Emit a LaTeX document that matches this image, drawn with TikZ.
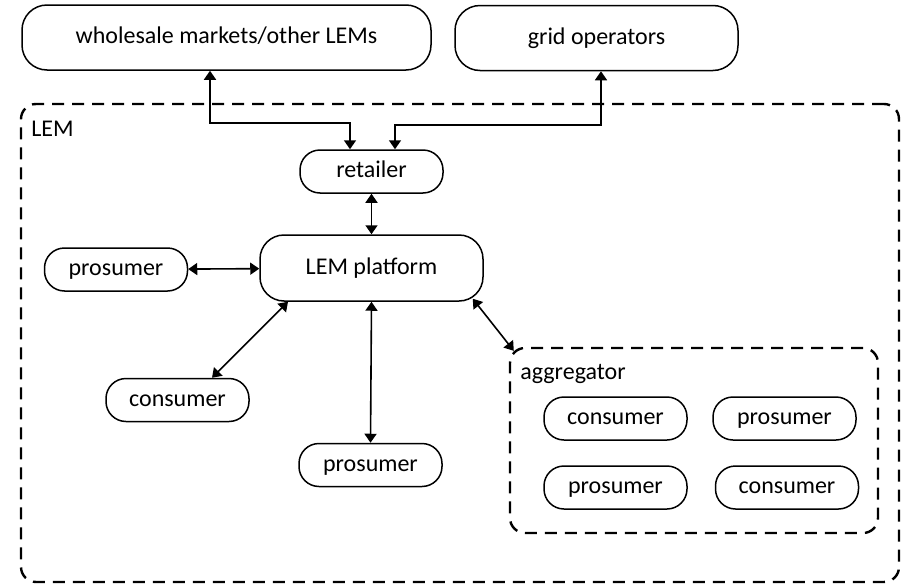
\documentclass[tikz,border=0pt]{standalone}
\usepackage{fontspec}
\setmainfont{Carlito}
\usetikzlibrary{arrows.meta}

\tikzset{
  pill/.style={draw, line width=0.75pt, rounded corners=10pt, minimum width=71.5pt, minimum height=21.5pt, inner sep=0pt, text height=8pt, text depth=2pt},
  bigbox/.style={pill, rounded corners=12.5pt, minimum height=32.5pt},
  group/.style={draw, line width=1.2pt, dash pattern=on 6pt off 4pt, rounded corners=7.5pt, inner sep=0pt},
  link/.style={line width=0.8pt, {Triangle[width=6pt,length=4.5pt]}-{Triangle[width=6pt,length=4.5pt]}}
}

\begin{document}
\begin{tikzpicture}[x=0.5pt, y=-0.5pt, font=\fontsize{12}{14}\selectfont]
        \useasboundingbox (0,0) rectangle (901,584);

        % Outer parties
        \node[bigbox, minimum width=204.5pt] (wholesale) at (226.5,37.5) {wholesale markets/other LEMs};
        \node[bigbox, minimum width=141.5pt] (grid) at (596.5,38) {grid operators};

        % Dashed regions
        \node[group, minimum width=439pt, minimum height=239pt] (lem) at (460,343) {};
        \node[anchor=base west, inner sep=0pt] (lemtitle) at (31,136) {LEM};
        \node[group, minimum width=184pt, minimum height=92.5pt] (aggregator) at (694,440.5) {};
        \node[anchor=base west, inner sep=0pt] (aggtitle) at (520,379) {aggregator};

        % Members of the LEM
        \node[pill] (retailer) at (371.5,171.5) {retailer};
        \node[pill, minimum width=111.5pt, minimum height=33pt, rounded corners=12pt] (platform) at (371.5,268) {LEM platform};
        \node[pill] (prosumerA) at (116,269.5) {prosumer};
        \node[pill] (consumerA) at (177.5,400) {consumer};
        \node[pill] (prosumerB) at (370.5,465) {prosumer};

        % Members of the aggregator
        \node[pill] (consumerB) at (615.5,418.5) {consumer};
        \node[pill] (prosumerC) at (784.5,418.5) {prosumer};
        \node[pill] (prosumerD) at (615.5,487.5) {prosumer};
        \node[pill] (consumerC) at (787,487.5) {consumer};

        % Links to the retailer
        \draw[link] ([xshift=-8.25pt]wholesale.south) -- ++(0,52) -| ([xshift=-10.75pt]retailer.north);
        \draw[link] ([xshift=2.25pt]grid.south) -- ++(0,54) -| ([xshift=11.75pt]retailer.north);

        % Links to the platform
        \draw[link] (retailer) -- (platform);
        \draw[link] (prosumerA) -- (platform);
        \draw[link] ([xshift=17.25pt]consumerA.north) -- ([xshift=-41.75pt]platform.south);
        \draw[link] (platform.south) -- (prosumerB.north);
        \draw[link] ([xshift=-5.5pt,yshift=1.5pt]platform.south east) -- ([xshift=2.5pt,yshift=-2pt]aggregator.north west);
\end{tikzpicture}
\end{document}
